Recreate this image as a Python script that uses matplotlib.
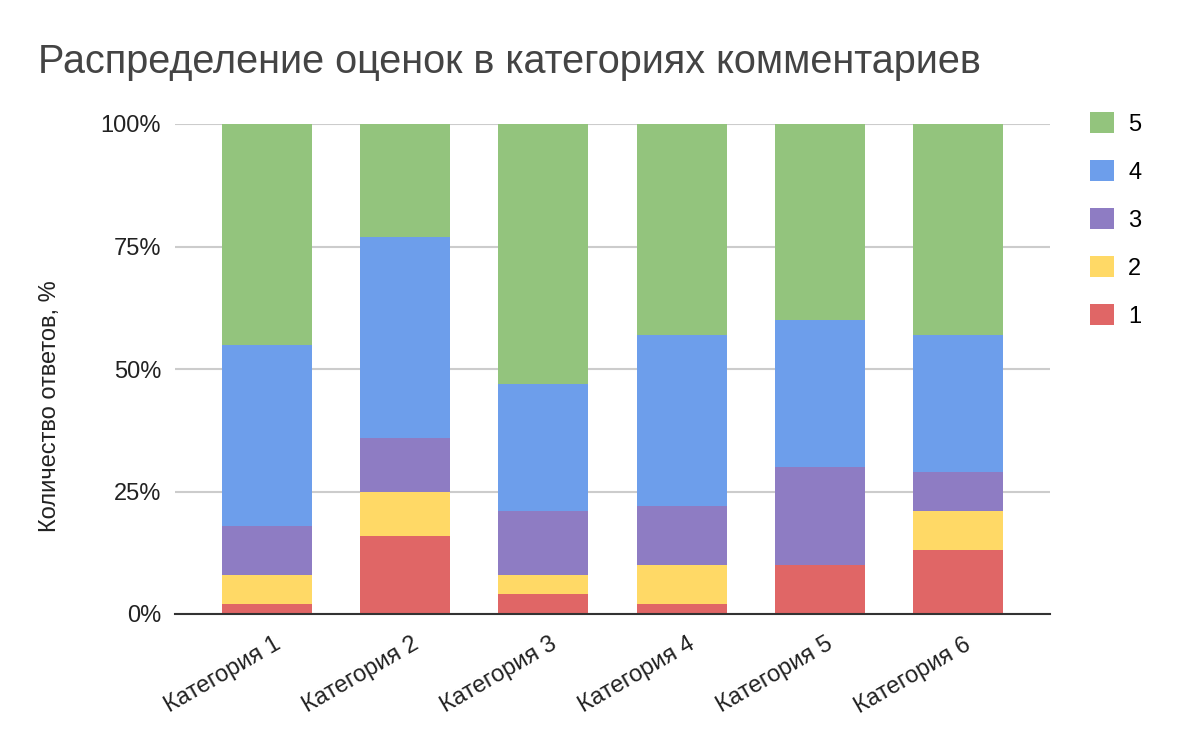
import matplotlib
matplotlib.use("Agg")
import matplotlib.pyplot as plt
from matplotlib.patches import Patch
from matplotlib.transforms import ScaledTranslation
import numpy as np

plt.rcParams['font.family'] = ['Liberation Sans', 'DejaVu Sans']

categories = ["Категория 1", "Категория 2", "Категория 3", "Категория 4", "Категория 5", "Категория 6"]
r1 = [2, 16, 4, 2, 10, 13]
r2 = [6, 9, 4, 8, 0, 8]
r3 = [10, 11, 13, 12, 20, 8]
r4 = [37, 41, 26, 35, 30, 28]
r5 = [45, 23, 53, 43, 40, 43]
series = [("1", r1, "#e06666"), ("2", r2, "#ffd966"), ("3", r3, "#8e7cc3"),
          ("4", r4, "#6d9eeb"), ("5", r5, "#93c47d")]
yticks = [0, 25, 50, 75, 100]
ytick_labels = ["0%", "25%", "50%", "75%", "100%"]

fig = plt.figure(figsize=(12, 7.42), dpi=100)
ax = fig.add_axes([175/1200, 1-614/742, (1050-175)/1200, (614-124)/742])

x = np.arange(len(categories))
bottom = np.zeros(len(categories))
for name, vals, col in series:
    vals = np.array(vals, dtype=float)
    ax.bar(x, vals, 0.652, bottom=bottom, color=col, label=name, zorder=2, linewidth=0)
    bottom += vals

ax.set_xlim(-0.667, 5.667)
ax.set_ylim(0, 100)
ax.set_yticks(yticks)
ax.set_yticklabels(ytick_labels, fontsize=17, color="#222222")
ax.yaxis.grid(True, color="#cccccc", linewidth=1.5, zorder=0)
ax.set_axisbelow(True)
ax.tick_params(axis='y', length=0, pad=10)
ax.tick_params(axis='x', length=0, pad=14)
ax.set_xticks(x)
ax.set_xticklabels(categories, rotation=30, ha='right', rotation_mode='anchor', fontsize=17, color="#222222")
shift = ScaledTranslation(6/100, 0, fig.dpi_scale_trans)
for lbl in ax.get_xticklabels():
    lbl.set_transform(lbl.get_transform() + shift)
for s in ['top', 'right', 'left']:
    ax.spines[s].set_visible(False)
ax.spines['bottom'].set_color("#333333")
ax.spines['bottom'].set_linewidth(1.5)
ax.spines['bottom'].set_zorder(3)

fig.text(50/1200, 1-406/742, "Количество ответов, %", fontsize=17, color="#222222",
         rotation=90, va='center', ha='center')

fig.text(38/1200, 1-62/742, "Распределение оценок в категориях комментариев",
         fontsize=28.5, color="#444444", va='center', ha='left')

handles = [Patch(facecolor=c, edgecolor='none', label=n) for n, _, c in reversed(series)]
fig.legend(handles=handles, loc='upper left', bbox_to_anchor=(1090/1200, 1-112/742),
           frameon=False, fontsize=17, handlelength=1.0, handleheight=1.0,
           labelspacing=1.03, handletextpad=0.62, borderpad=0, borderaxespad=0)

fig.savefig("out.png", dpi=100)
